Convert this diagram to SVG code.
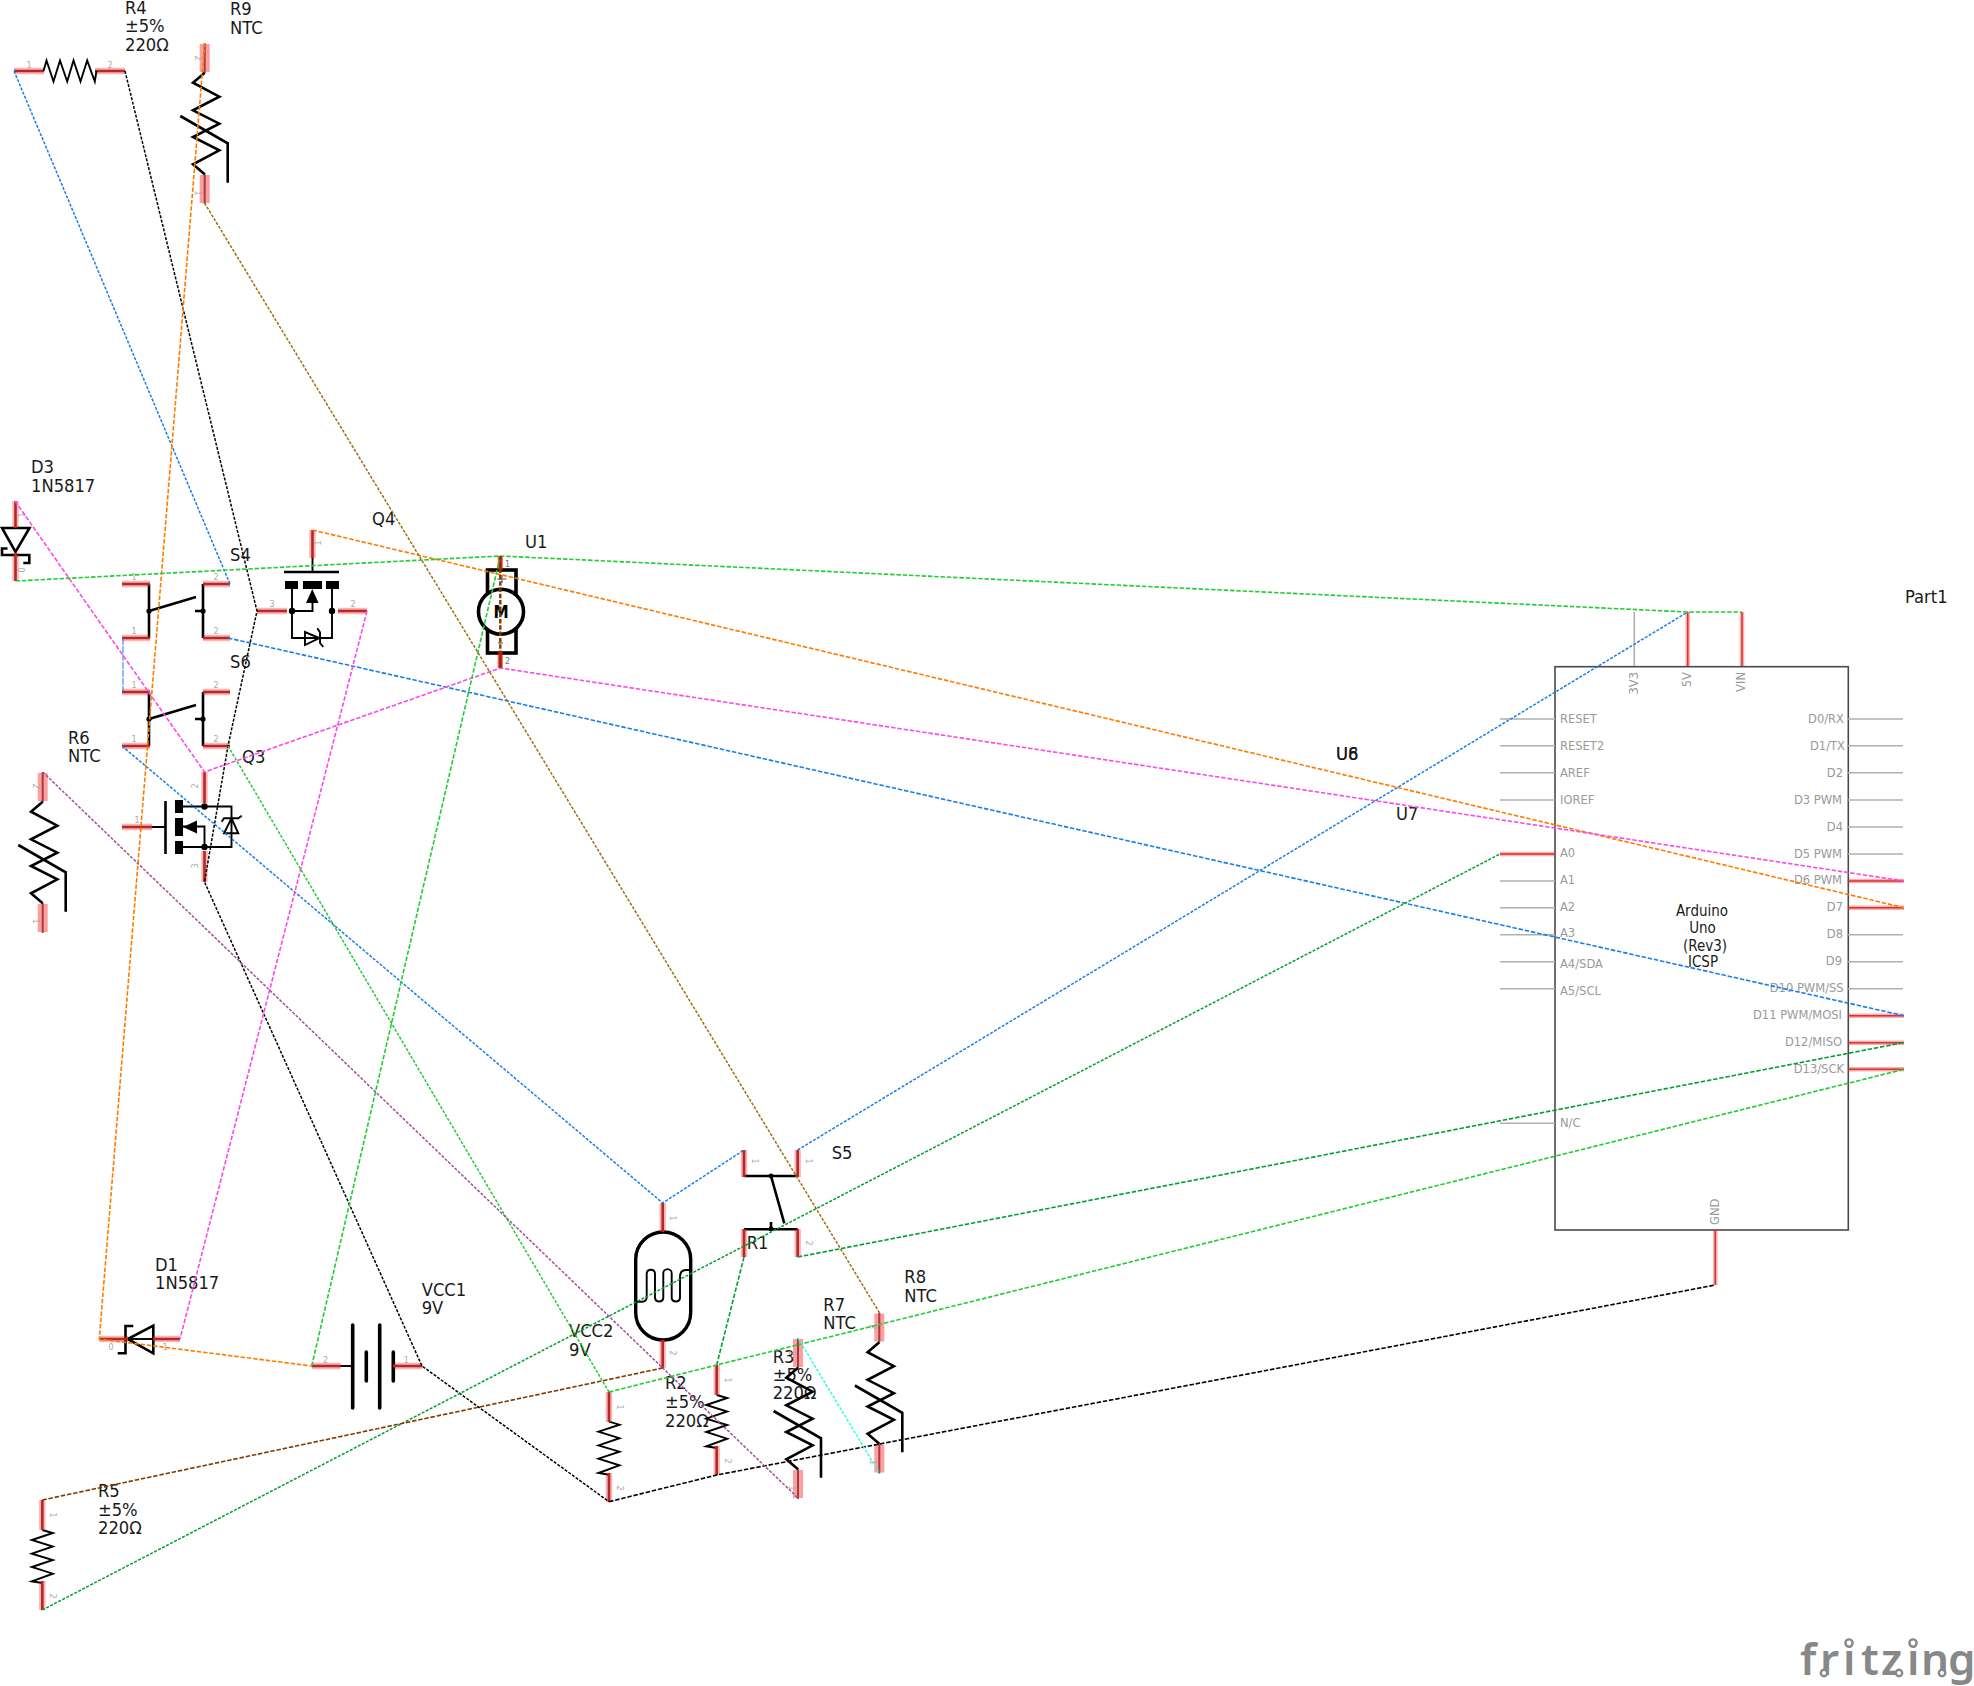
<svg xmlns="http://www.w3.org/2000/svg" xmlns:xlink="http://www.w3.org/1999/xlink" width="1974" height="1686" viewBox="0 0 1974 1686">
<style>
text{font-family:"DejaVu Sans Condensed","DejaVu Sans",sans-serif;font-stretch:condensed}
.l{font-size:18.2px;fill:#1a1a1a}
.u{font-size:15px;fill:#1a1a1a;text-anchor:middle}
.n{font-size:9px;fill:#aaa;text-anchor:middle}
.a{font-size:12.8px;fill:#9a9a9a}
.e{text-anchor:end}
.k{fill:none;stroke:#000;stroke-width:2.6}
.t{fill:none;stroke:#000;stroke-width:1.9}
.b{fill:none;stroke:#000;stroke-width:3.6;stroke-linecap:round}
.f{fill:#000;stroke:none}
.pc{fill:none;stroke:#903c3c;stroke-width:2.6}
.ph{fill:none;stroke:#f00;stroke-width:6.4;opacity:.3}
.nc{fill:none;stroke:#666;stroke-width:2}
.nh{fill:none;stroke:#f00;stroke-width:10;opacity:.38}
.ag{fill:none;stroke:#b0b0b0;stroke-width:1.6}
.ar{fill:none;stroke:#b85050;stroke-width:1.5}
.ah{fill:none;stroke:#f00;stroke-width:4.6;opacity:.32}
#connectors path{fill:none;stroke-width:1.6;stroke-dasharray:4.5 1.8}
#connectors .d{stroke-width:1.5;stroke-dasharray:3 1.5}
#fritzing-logo circle{fill:#fff;stroke:#888;stroke-width:2.4}
</style>
<defs>
<path id="rz" class="t" d="M0 0L3-10.5L10 10.5L16.5-10.5L23.7 10.5L30-10.5L37 10.5L43.7-10.5L51.3 10.5L53 0"/>
<g id="ntc">
<path class="nc" d="M0 0V30M0 131V161"/>
<path class="nh" d="M0 1V29M0 132V160"/>
<path class="k" d="M0 29.7L-11.7 39.7L14.6 53.7L-11.7 67.3L14.6 80.7L-11.7 94L14.6 107.3L-11.7 121.3L0 131.3M-24.4 73L23 100.3V139.7"/>
</g>
<g id="sw">
<path class="k" d="M27 0V54M27 27L74 13M81 0V54M73 27H81"/>
<circle class="f" cx="27" cy="27" r="2.6"/><circle class="f" cx="81" cy="27" r="2.6"/>
<path class="pc" d="M0 0H28M0 54H28M81 0H108M81 54H108"/>
<path class="ph" d="M0 0H28M0 54H28M81 0H108M81 54H108"/>
</g>
</defs>

<g id="R4"><path class="pc" d="M14 71H44M95 71H125"/><path class="ph" d="M14 71H44M95 71H125"/><use xlink:href="#rz" href="#rz" transform="translate(43.5 71)"/>
<text class="n" x="29" y="68">1</text><text class="n" x="110" y="68">2</text>
<text class="l" x="125" y="13.5">R4</text><text class="l" x="125" y="32">±5%</text><text class="l" x="125" y="50.5">220Ω</text></g>

<g id="R9"><use xlink:href="#ntc" href="#ntc" x="204.7" y="43"/>
<text class="n" transform="rotate(90 195 58)" x="195" y="58">2</text><text class="n" transform="rotate(90 195 193)" x="195" y="193">1</text>
<text class="l" x="230" y="15">R9</text><text class="l" x="230" y="33.5">NTC</text></g>

<g id="D3"><path class="k" d="M15.5 528L2 528L15.5 552L29.5 528ZM7.5 548.5H2V555H29.3V563H23.3"/><path class="pc" d="M15.5 501V528M15.5 553V581"/><path class="ph" d="M15.5 501V528M15.5 553V581"/>
<text class="n" transform="rotate(-90 25 515)" x="25" y="515">1</text><text class="n" transform="rotate(-90 25 570)" x="25" y="570">0</text>
<text class="l" x="31" y="473.4">D3</text><text class="l" x="31" y="491.7">1N5817</text></g>

<g id="S4"><use xlink:href="#sw" href="#sw" x="122" y="584"/><text class="n" x="134" y="580">1</text><text class="n" x="216" y="580">2</text><text class="n" x="134" y="634">1</text><text class="n" x="216" y="634">2</text><text class="l" x="230" y="560.7">S4</text></g>
<g id="S6"><use xlink:href="#sw" href="#sw" x="122" y="692"/><text class="n" x="134" y="688">1</text><text class="n" x="216" y="688">2</text><text class="n" x="134" y="742">1</text><text class="n" x="216" y="742">2</text><text class="l" x="230" y="668.3">S6</text></g>

<g id="Q4"><path class="k" d="M284 572H339" /><path class="t" d="M312.5 558V572M292 589V638H332V589M292 611H312.5V600M305 632V645L319.3 638ZM317.3 628.3L320 632.3V643L323.3 647"/>
<rect class="f" x="285" y="581" width="13" height="8"/><rect class="f" x="303" y="581" width="19" height="8"/><rect class="f" x="326" y="581" width="13" height="8"/>
<path class="f" d="M306 603H318.5L312.3 589Z"/><circle class="f" cx="292" cy="611" r="3.2"/><circle class="f" cx="332" cy="611" r="3.2"/>
<path class="pc" d="M312.5 530V558M257 611H287M338 611H367"/><path class="ph" d="M312.5 530V558M257 611H287M338 611H367"/>
<text class="n" transform="rotate(-90 321 543)" x="321" y="543">1</text><text class="n" x="272" y="607">3</text><text class="n" x="353" y="607">2</text>
<text class="l" x="372" y="525">Q4</text></g>

<g id="U1"><rect x="487.5" y="570" width="28.5" height="83" fill="#fff" stroke="#000" stroke-width="3.6"/><circle cx="501" cy="611.7" r="22.5" fill="#fff" stroke="#000" stroke-width="3.6"/>
<path d="M497.5 579H506.5M502 575V583M498 643H503" fill="none" stroke="#888" stroke-width="1.6"/>
<text x="501" y="618" text-anchor="middle" font-size="17" font-weight="700" fill="#000">M</text>
<path fill="none" stroke="#c02020" stroke-width="3" d="M500.3 556V570M500.3 652V668"/><path fill="none" stroke="#f00" stroke-width="5.4" opacity=".55" d="M500.3 556V570M500.3 652V668"/>
<text x="507.5" y="567" text-anchor="middle" font-size="9" fill="#777">1</text><text x="507.5" y="664" text-anchor="middle" font-size="9" fill="#777">2</text>
<text class="l" x="525" y="548">U1</text></g>

<g id="R6"><use xlink:href="#ntc" href="#ntc" x="42.7" y="772"/>
<text class="n" transform="rotate(90 33 786)" x="33" y="786">2</text><text class="n" transform="rotate(90 33 921)" x="33" y="921">1</text>
<text class="l" x="68" y="744">R6</text><text class="l" x="68" y="762">NTC</text></g>

<g id="Q3"><path class="k" d="M165.5 801V854"/><path class="t" d="M152 827H165.5M183 806.5H231.5V847H183M183 826.5H204.5V847M231.5 806.5V818M231.5 833.3V847M224 833.3H238.3L231.5 818.3ZM221.7 821.7L224 818.3H238.3L241.7 815.7"/>
<rect class="f" x="175" y="800" width="8" height="13"/><rect class="f" x="175" y="818" width="8" height="18"/><rect class="f" x="175" y="841" width="8" height="13"/>
<path class="f" d="M183 827L197 820.5V833.5Z"/><circle class="f" cx="204.5" cy="806.5" r="3.2"/><circle class="f" cx="204.5" cy="847" r="3.2"/>
<path class="pc" d="M122 827H152M204.5 772V803M204.5 851V882"/><path class="ph" d="M122 827H152M204.5 772V803M204.5 851V882"/>
<text class="n" x="137" y="823">1</text><text class="n" transform="rotate(-90 198 786)" x="198" y="786">2</text><text class="n" transform="rotate(-90 198 866)" x="198" y="866">3</text>
<text class="l" x="242" y="763.3">Q3</text></g>

<g id="S5"><path class="k" d="M744 1176H797.7M744 1229.3H797.7M771 1176L784.3 1223.3M771 1222V1229.3"/><circle class="f" cx="771" cy="1176" r="2.4"/><circle class="f" cx="771" cy="1229" r="2.4"/>
<path class="pc" d="M744 1150V1177M797.7 1150V1177M744 1229V1257M797.7 1229V1257"/><path class="ph" d="M744 1150V1177M797.7 1150V1177M744 1229V1257M797.7 1229V1257"/>
<text class="n" transform="rotate(90 752 1161)" x="752" y="1161">1</text><text class="n" transform="rotate(90 806 1161)" x="806" y="1161">1</text><text class="n" transform="rotate(90 806 1243)" x="806" y="1243">2</text>
<text class="l" x="831.7" y="1159.3">S5</text></g>

<g id="R1"><rect x="635.7" y="1232" width="55" height="108" rx="27.5" fill="none" stroke="#000" stroke-width="3.4"/>
<path class="t" d="M635.7 1301.7H642Q646.7 1301.7 646.7 1297V1273.3A4.2 4.2 0 0 1 655 1273.3V1298A4.2 4.2 0 0 0 663.3 1298V1273.3A4.2 4.2 0 0 1 671.7 1273.3V1298A4.2 4.2 0 0 0 680 1298V1277Q680 1270 686 1270H690.7"/>
<path class="pc" d="M662.7 1203V1232M662.7 1340V1368"/><path class="ph" d="M662.7 1203V1232M662.7 1340V1368"/>
<text class="n" transform="rotate(90 670 1218)" x="670" y="1218">1</text><text class="n" transform="rotate(90 670 1353)" x="670" y="1353">2</text>
<text class="l" x="746.7" y="1249.3">R1</text></g>

<g id="D1"><path class="t" d="M127.7 1339H153.3"/><path class="k" d="M153.3 1325.7V1353.3L127.7 1339ZM133.3 1326H125.5V1353.3H117.7"/><path class="pc" d="M99.3 1339H128M153 1339H180"/><path class="ph" d="M99.3 1339H128M153 1339H180"/>
<text class="n" x="111" y="1350">0</text><text class="n" x="165" y="1350">1</text>
<text class="l" x="155" y="1270.7">D1</text><text class="l" x="155" y="1289.3">1N5817</text></g>

<g id="VCC1"><path class="t" d="M340 1366H352.7"/><path class="b" d="M352.7 1325V1408M379.7 1325V1408M366.3 1352V1381M393.3 1352V1381"/><path class="pc" d="M311.7 1366H340.7M393 1366H422.3"/><path class="ph" d="M311.7 1366H340.7M393 1366H422.3"/>
<text class="n" x="325.7" y="1363">2</text><text class="n" x="406.3" y="1363">1</text>
<text class="l" x="421.7" y="1295.7">VCC1</text><text class="l" x="421.7" y="1314">9V</text></g>

<g id="VCC2"><text class="l" x="569" y="1337.3">VCC2</text><text class="l" x="569" y="1356">9V</text></g>

<g id="R5"><use xlink:href="#rz" href="#rz" transform="translate(42.3 1530) rotate(90)"/><path class="pc" d="M42.3 1500V1530M42.3 1581V1610"/><path class="ph" d="M42.3 1500V1530M42.3 1581V1610"/>
<text class="n" transform="rotate(90 50 1515)" x="50" y="1515">1</text><text class="n" transform="rotate(90 50 1596)" x="50" y="1596">2</text>
<text class="l" x="98" y="1497.3">R5</text><text class="l" x="98" y="1515.7">±5%</text><text class="l" x="98" y="1534">220Ω</text></g>

<g id="R2"><use xlink:href="#rz" href="#rz" transform="translate(609 1421.7) rotate(90)"/><path class="pc" d="M609 1392V1422M609 1473V1502"/><path class="ph" d="M609 1392V1422M609 1473V1502"/>
<text class="n" transform="rotate(90 617 1407)" x="617" y="1407">1</text><text class="n" transform="rotate(90 617 1488)" x="617" y="1488">2</text>
<text class="l" x="665" y="1389.3">R2</text><text class="l" x="665" y="1408">±5%</text><text class="l" x="665" y="1426.7">220Ω</text></g>

<g id="R3"><use xlink:href="#rz" href="#rz" transform="translate(716.7 1395) rotate(90)"/><path class="pc" d="M716.7 1365V1395M716.7 1446V1475"/><path class="ph" d="M716.7 1365V1395M716.7 1446V1475"/>
<text class="n" transform="rotate(90 725 1380)" x="725" y="1380">1</text><text class="n" transform="rotate(90 725 1461)" x="725" y="1461">2</text>
<text class="l" x="772.7" y="1362.7">R3</text><text class="l" x="772.7" y="1381">±5%</text><text class="l" x="772.7" y="1399.3">220Ω</text></g>

<g id="R7"><use xlink:href="#ntc" href="#ntc" x="798" y="1338"/>
<text class="n" transform="rotate(90 789 1353)" x="789" y="1353">2</text><text class="n" transform="rotate(90 789 1488)" x="789" y="1488">1</text>
<text class="l" x="823.3" y="1310.7">R7</text><text class="l" x="823.3" y="1329">NTC</text></g>

<g id="R8"><use xlink:href="#ntc" href="#ntc" x="879.3" y="1312.5"/>
<text class="n" transform="rotate(90 870 1327)" x="870" y="1327">2</text><text class="n" transform="rotate(90 870 1462)" x="870" y="1462">1</text>
<text class="l" x="904.3" y="1283.3">R8</text><text class="l" x="904.3" y="1301.7">NTC</text></g>

<g id="Part1"><rect x="1555" y="666.7" width="293.3" height="563.3" fill="none" stroke="#4a4a4a" stroke-width="1.6"/>
<path class="ag" d="M1634.3 612V666M1500 719H1555M1500 745.7H1555M1500 772.7H1555M1500 800H1555M1500 881H1555M1500 907.7H1555M1500 934.7H1555M1500 961.7H1555M1500 988.7H1555M1500 1123.3H1555M1848 719H1903M1848 745.7H1903M1848 772.7H1903M1848 800H1903M1848 827H1903M1848 854H1903M1848 934.7H1903M1848 961.7H1903M1848 988.7H1903"/>
<path class="ar" d="M1687.7 612V666M1742 612V666M1500 854H1555M1848 881H1904M1848 907.7H1904M1848 1015.7H1904M1848 1042.7H1904M1848 1069.3H1904M1715.3 1230V1285"/>
<path class="ah" d="M1687.7 612V666M1742 612V666M1500 854H1555M1848 881H1904M1848 907.7H1904M1848 1015.7H1904M1848 1042.7H1904M1848 1069.3H1904M1715.3 1230V1285"/>
<text class="a" x="1560" y="722.7">RESET</text><text class="a" x="1560" y="749.5">RESET2</text><text class="a" x="1560" y="776.5">AREF</text><text class="a" x="1560" y="803.5">IOREF</text><text class="a" x="1560" y="857">A0</text><text class="a" x="1560" y="884">A1</text><text class="a" x="1560" y="911">A2</text><text class="a" x="1560" y="937">A3</text><text class="a" x="1560" y="967.7">A4/SDA</text><text class="a" x="1560" y="995">A5/SCL</text><text class="a" x="1560" y="1127">N/C</text>
<text class="a e" x="1844" y="722.7">D0/RX</text><text class="a e" x="1845" y="749.5">D1/TX</text><text class="a e" x="1843" y="776.5">D2</text><text class="a e" x="1842" y="803.5">D3 PWM</text><text class="a e" x="1843" y="830.5">D4</text><text class="a e" x="1842" y="857.5">D5 PWM</text><text class="a e" x="1842" y="884">D6 PWM</text><text class="a e" x="1843" y="911">D7</text><text class="a e" x="1843" y="938">D8</text><text class="a e" x="1842" y="965">D9</text><text class="a e" x="1843.7" y="991.7">D10 PWM/SS</text><text class="a e" x="1842" y="1019">D11 PWM/MOSI</text><text class="a e" x="1842" y="1045.7">D12/MISO</text><text class="a e" x="1844" y="1072.7">D13/SCK</text>
<text class="a e" transform="rotate(-90 1637.5 672)" x="1637.5" y="672">3V3</text><text class="a e" transform="rotate(-90 1691 672)" x="1691" y="672">5V</text><text class="a e" transform="rotate(-90 1745 672)" x="1745" y="672">VIN</text><text class="a" transform="rotate(-90 1718.5 1225)" x="1718.5" y="1225">GND</text>
<text class="u" x="1702" y="915.7">Arduino</text><text class="u" x="1702.5" y="933.3">Uno</text><text class="u" x="1705" y="950.7">(Rev3)</text><text class="u" x="1703" y="966.7">ICSP</text>
<text class="l" x="1905" y="602.7">Part1</text></g>

<g id="U6"><text class="l" x="1336" y="760">U6</text></g>
<g id="U8"><text class="l" x="1336" y="760">U8</text></g>
<g id="U7"><text class="l" x="1396" y="820">U7</text></g>

<g id="fritzing-logo"><text x="1800 1820 1843 1861 1881 1907 1921 1948" y="1675" font-size="44" style="font-family:'Noto Sans',sans-serif;font-stretch:normal" font-weight="600" fill="#888">fritzing</text>
<circle cx="1824" cy="1673" r="3.2"/><circle cx="1849" cy="1643" r="3.6"/><circle cx="1899" cy="1673" r="3.2"/><circle cx="1913" cy="1643" r="3.6"/><circle cx="1942" cy="1673" r="3.2"/></g>

<g id="connectors">
<path class="d" stroke="#1a7ee8" d="M14 71L230 584"/>
<path stroke="#1a7ee8" d="M228 638L1904 1015.7"/>
<path stroke="#1a7ee8" style="stroke-width:1;stroke-dasharray:7 1" d="M123 638V692"/>
<path class="d" stroke="#1a7ee8" d="M122 746L662.7 1203L744 1150"/>
<path class="d" stroke="#1a7ee8" d="M797.7 1150L1687.7 612"/>
<path class="d" stroke="#000" d="M125 71L257 611L228 746L204.5 882L422 1366L609 1501.7"/>
<path stroke="#000" d="M609 1501.7L716.7 1475L1715.3 1285"/>
<path stroke="#ff7b00" d="M204.7 43L99.3 1339L311.7 1366"/>
<path stroke="#ff7b00" d="M312.5 530L1904 907.7"/>
<path stroke="#f94be5" d="M15 501L204.5 772L500.3 668L1904 881"/>
<path stroke="#f94be5" d="M367 611L180 1339"/>
<path stroke="#22cc33" d="M15.5 581L500.3 556L1687.7 612L1742 612"/>
<path stroke="#22cc33" d="M311.7 1366L500.3 556"/>
<path class="d" stroke="#22cc33" d="M228 746L609 1392"/>
<path stroke="#22cc33" d="M609 1392L716.7 1365L1904 1069.3"/>
<path class="d" stroke="#00a030" d="M42.3 1610L1500 854"/>
<path stroke="#00a030" d="M797.7 1257L1903 1042.7"/>
<path stroke="#00a030" d="M744 1257L716.7 1365"/>
<path stroke="#803a00" d="M42.3 1500L662.7 1368"/>
<path stroke="#803a00" style="stroke-width:2.4" d="M500.3 556V668"/>
<path class="d" stroke="#a07010" d="M204.5 203L879.3 1312.5"/>
<path class="d" stroke="#a0509a" d="M42.7 772L798 1498"/>
<path class="d" stroke="#30ffd8" d="M798 1338L879.3 1473"/>
</g>
</svg>
